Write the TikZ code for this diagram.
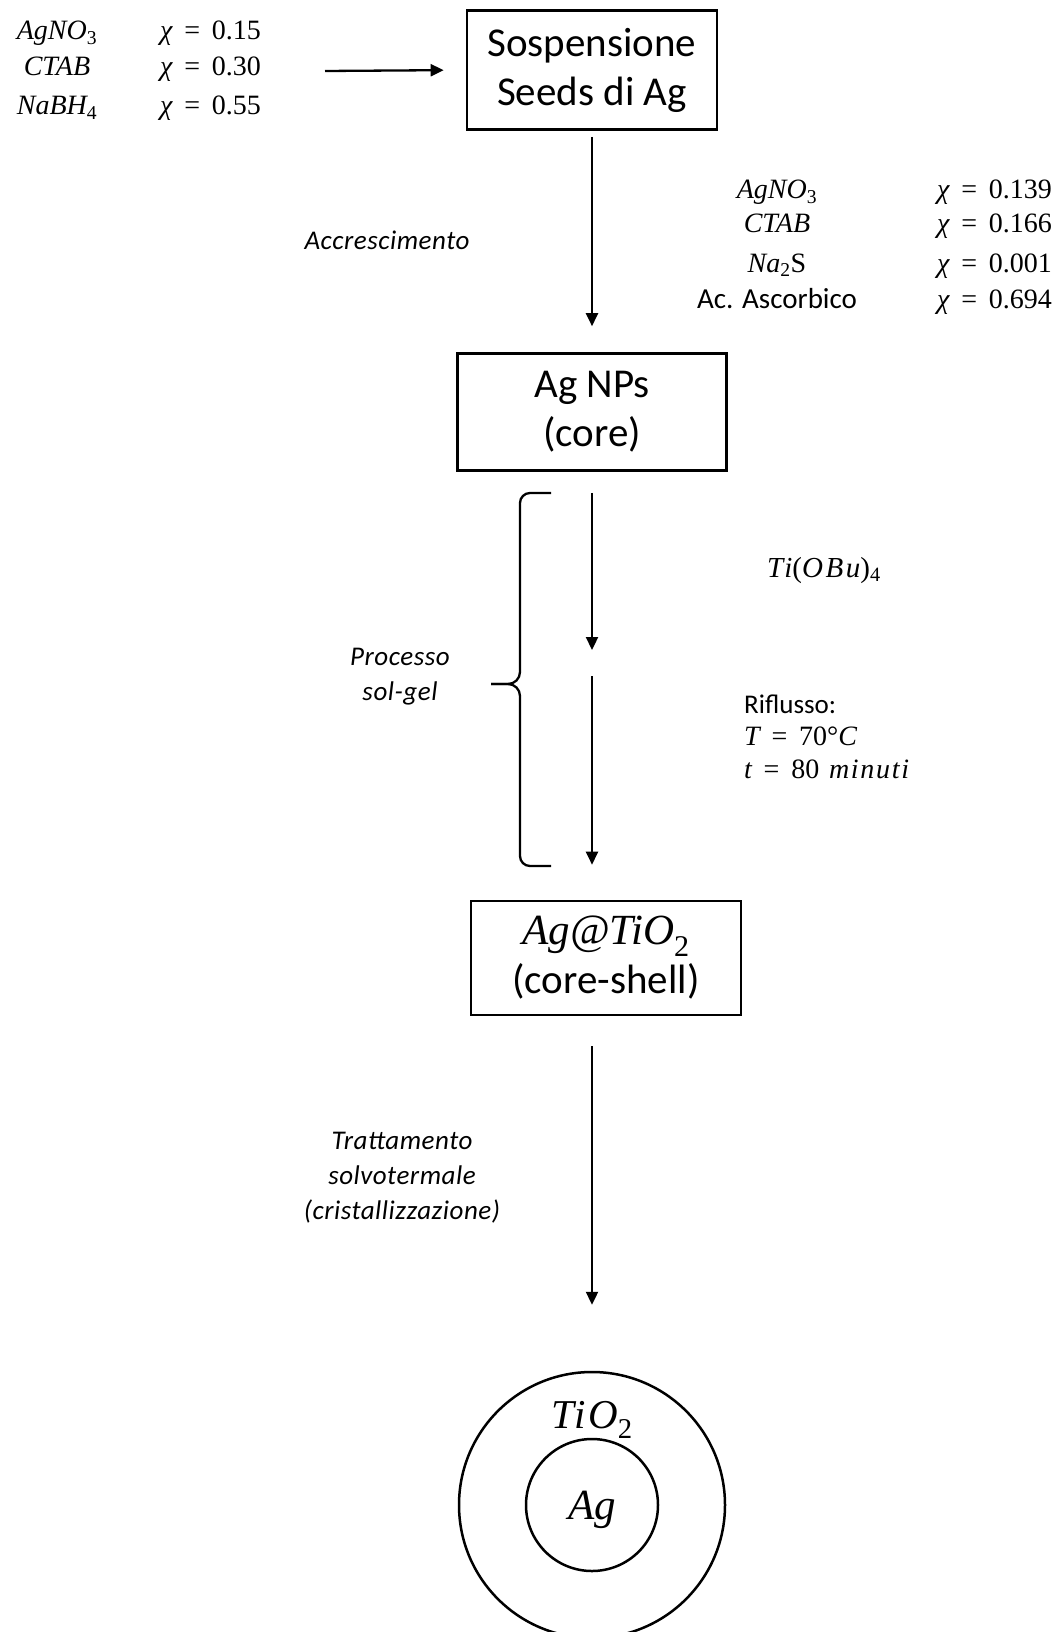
\documentclass[tikz,border=0pt]{standalone}
\usepackage{fontspec}
\setmainfont{Carlito}
\newfontfamily\mth{Liberation Serif}
\newfontfamily\mthw[LetterSpace=9]{Liberation Serif}
\newfontfamily\mthm[LetterSpace=6]{Liberation Serif}
\usetikzlibrary{arrows.meta}
\newcommand\mi[1]{{\mth\itshape #1}}
\newcommand\mr[1]{{\mth #1}}
\newcommand\sbs[1]{\textsubscript{\mth #1}}
\newcommand\eq{\hspace{0.42em}\mr{=}\hspace{0.42em}}
\newcommand\boxfnt{\fontsize{41}{49}\selectfont}
\newcommand\chemfnt{\fontsize{28}{33}\selectfont}
\newcommand\labfnt{\fontsize{27}{35}\selectfont\itshape\addfontfeatures{LetterSpace=2}}
\newcommand\notefnt{\fontsize{27}{33}\selectfont}
\begin{document}
\begin{tikzpicture}[x=1pt,y=-1pt,
  stepbox/.style={draw, line width=2.6pt, align=center, font=\boxfnt, inner sep=0pt},
  flow/.style={line width=2.3pt, -{Triangle[width=12pt,length=13pt]}},
  chem/.style={font=\chemfnt, inner sep=0pt, anchor=base},
  chemv/.style={font=\chemfnt, inner sep=0pt, anchor=base west},
  lab/.style={font=\labfnt, align=center, inner sep=0pt},
  note/.style={font=\notefnt, align=left, inner sep=0pt},
  ring/.style={draw, circle, line width=2.5pt, inner sep=0pt},
  bracepath/.style={line width=2.3pt}
]
\useasboundingbox (0,0) rectangle (1057,1632);

% boxes
\node[stepbox, minimum width=250pt, minimum height=119pt] (box1) at (592,70) {Sospensione\\Seeds di Ag};
\node[stepbox, minimum width=269pt, minimum height=117pt] (box2) at (592,412) {Ag NPs\\(core)};
\node[stepbox, minimum width=270pt, minimum height=114pt] (box3) at (606,958) {{\fontsize{43}{49}\selectfont\mi{Ag@TiO}\sbs{2}}\\(core-shell)};

% left reagent list
\node[chem] (l1) at (57,40) {\mi{AgNO}\sbs{3}};
\node[chem] (l2) at (57,76) {\mi{CTAB}};
\node[chem] (l3) at (57,115) {\mi{NaBH}\sbs{4}};
\node[chemv] (lv1) at (160,40) {\mi{χ}\eq\mr{0.15}};
\node[chemv] (lv2) at (160,76) {\mi{χ}\eq\mr{0.30}};
\node[chemv] (lv3) at (160,115) {\mi{χ}\eq\mr{0.55}};
\coordinate (a0) at (325,71);
\draw[flow, shorten >=22pt] (a0) -- (box1.west);

% right reagent list
\node[chem] (r1) at (777,199) {\mi{AgNO}\sbs{3}};
\node[chem] (r2) at (777,232) {\mi{CTAB}};
\node[chem] (r3) at (777,272) {\mi{Na}\sbs{2}\mr{S}};
\node[chem, font=\fontsize{29}{33}\selectfont] (r4) at (777,308) {Ac. Ascorbico};
\node[chemv] (rv1) at (937,199) {\mi{χ}\eq\mr{0.139}};
\node[chemv] (rv2) at (937,232) {\mi{χ}\eq\mr{0.166}};
\node[chemv] (rv3) at (937,272) {\mi{χ}\eq\mr{0.001}};
\node[chemv] (rv4) at (937,308) {\mi{χ}\eq\mr{0.694}};

\node[lab, anchor=base] (acc) at (387,249) {Accrescimento};
\draw[flow, shorten <=6pt, shorten >=26pt] (box1.south) -- (box2.north);

% sol-gel
\coordinate (m1) at (592,650);
\coordinate (m2) at (592,676);
\draw[flow, shorten <=21pt] (box2.south) -- (m1);
\draw[flow, shorten >=35pt] (m2) -- (box2.south |- box3.north);
\node[chem, font=\fontsize{29}{33}\selectfont] (ti) at (824,577) {{\mthw\itshape Ti}{\mthw (}{\mthw\itshape OBu}{\mthw )}\sbs{4}};
\node[note, anchor=base west] (rif) at (744,713) {Riflusso:};
\node[chemv] (tT) at (744,745) {\mi{T}\eq\mr{70°}\mi{C}};
\node[chemv] (tt) at (744,778) {\mi{t}\eq\mr{80}\hspace{0.35em}{\mthm\itshape minuti}};
\node[lab] (sol) at (400,677) {Processo\\sol-gel};

\coordinate (bt) at (551,493);
\coordinate (bb) at (551,866);
\coordinate (btip) at (491,684);
\draw[bracepath] (bt) -- (530,493) to[out=180,in=90] (520,503) -- (520,672)
  to[out=-90,in=0] (508,684) -- (btip);
\draw[bracepath] (btip) -- (508,684) to[out=0,in=90] (520,696) -- (520,856)
  to[out=-90,in=180] (530,866) -- (bb);

% solvothermal
\node[ring, minimum size=266pt] (outer) at (592,1505) {};
\node[ring, minimum size=132pt] (inner) at (592,1505) {};
\node[chem, font=\fontsize{41}{44}\selectfont] (tio) at (592,1428) {{\mthm\itshape TiO}\sbs{2}};
\node[chem, font=\fontsize{43}{44}\selectfont] (ag) at (592,1519) {\mi{Ag}};
\draw[flow, shorten <=30pt, shorten >=66pt] (box2.south |- box3.south) -- (outer.north);
\node[lab] (tratt) at (402,1178) {Trattamento\\solvotermale\\(cristallizzazione)};
\end{tikzpicture}
\end{document}
